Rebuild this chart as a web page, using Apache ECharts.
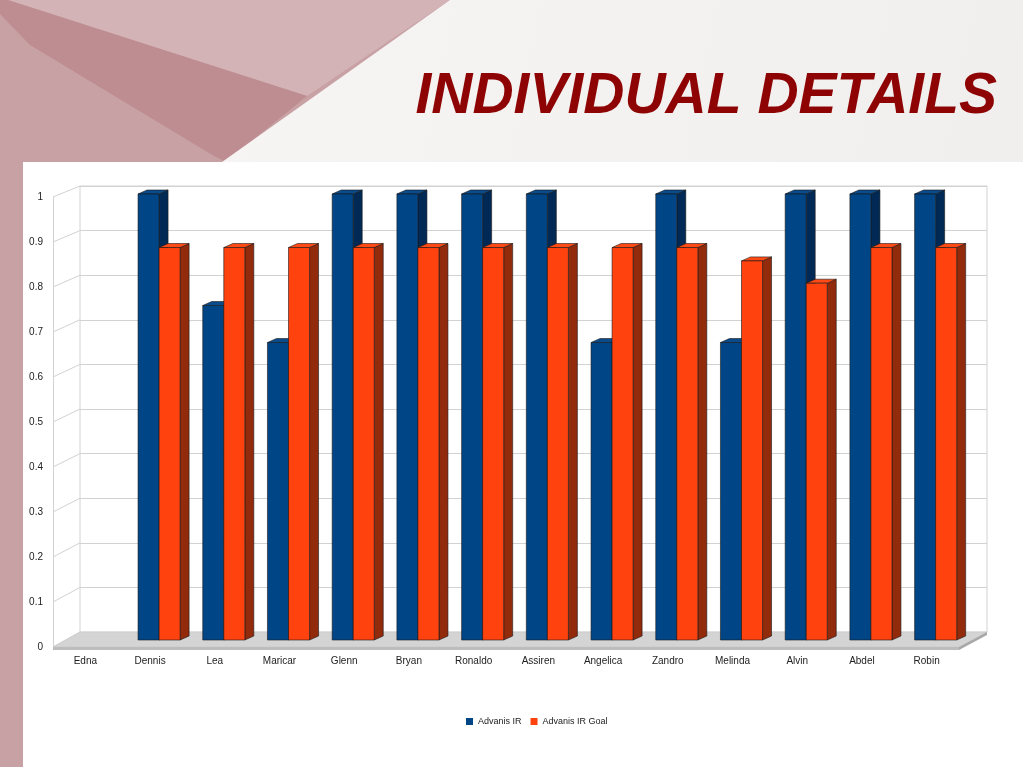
<!DOCTYPE html>
<html>
<head>
<meta charset="utf-8">
<script src="https://cdn.jsdelivr.net/npm/echarts@6/dist/echarts.min.js"></script>
<style>
  html, body { margin: 0; padding: 0; }
  #chart { width: 1023px; height: 767px; }
</style>
</head>
<body>
<div id="chart"></div>
<script>
// data
const names = ["Edna", "Dennis", "Lea", "Maricar", "Glenn", "Bryan", "Ronaldo", "Assiren", "Angelica", "Zandro", "Melinda", "Alvin", "Abdel", "Robin"]
const irValues = [null, 1, 0.75, 0.667, 1, 1, 1, 1, 0.667, 1, 0.667, 1, 1, 1]
const goalValues = [null, 0.88, 0.88, 0.88, 0.88, 0.88, 0.88, 0.88, 0.88, 0.88, 0.85, 0.8, 0.88, 0.88]
const yTicks = [0, 0.1, 0.2, 0.3, 0.4, 0.5, 0.6, 0.7, 0.8, 0.9, 1]
const seriesNames = ["Advanis IR", "Advanis IR Goal"]

const FONT = "Liberation Sans, Arial, sans-serif"
const BACK_LEFT = 80, BACK_RIGHT = 987
const FRONT_LEFT = 53, FRONT_RIGHT = 959

const chart = echarts.init(document.getElementById("chart"))

// 3d looking bar: front face, side face, top face
const bar3d = (side, front, dark, top) => (params, api) => {
  const v = api.value(1)
  if (v == null || isNaN(v)) return
  const tp = api.coord([api.value(0), v])
  const bp = api.coord([api.value(0), 0])
  const bw = api.size([1, 0])[0] * 0.325
  const x0 = side === 0 ? tp[0] - bw : tp[0]
  const x1 = x0 + bw
  const dx = 9, dy = -4
  const edge = { stroke: "#1a1a1a", lineWidth: 0.6 }
  return {
    type: "group",
    children: [
      { type: "polygon", shape: { points: [[x1, tp[1]], [x1 + dx, tp[1] + dy], [x1 + dx, bp[1] + dy], [x1, bp[1]]] },
        style: Object.assign({ fill: dark }, edge) },
      { type: "polygon", shape: { points: [[x0, tp[1]], [x0 + dx, tp[1] + dy], [x1 + dx, tp[1] + dy], [x1, tp[1]]] },
        style: Object.assign({ fill: top }, edge) },
      { type: "rect", shape: { x: x0, y: tp[1], width: bw, height: bp[1] - tp[1] },
        style: Object.assign({ fill: front }, edge) }
    ]
  }
}

const background = [
  { type: "rect", z: -100, shape: { x: 0, y: 0, width: 1023, height: 767 }, style: { fill: "#c8a1a5" } },
  { type: "polygon", z: -99, shape: { points: [[8, 0], [450, 0], [307, 96]] }, style: { fill: "#d3b3b6" } },
  { type: "polygon", z: -99, shape: { points: [[8, 0], [307, 96], [226, 162], [214, 156], [30, 45], [0, 14], [0, 0]] }, style: { fill: "#be8d92" } },
  { type: "polygon", z: -98, shape: { points: [[450, 0], [1023, 0], [1023, 162], [222, 162]] },
    style: { fill: new echarts.graphic.LinearGradient(0, 0, 1, 1, [{ offset: 0, color: "#f7f4f4" }, { offset: 1, color: "#f1eeee" }]) } },
  { type: "rect", z: -97, shape: { x: 23, y: 162, width: 1000, height: 605 }, style: { fill: "#ffffff" } }
]

chart.setOption({
  animation: false,
  textStyle: { fontFamily: FONT },
  title: {
    text: "INDIVIDUAL DETAILS",
    right: 21,
    top: 64,
    textStyle: { fontSize: 57, fontStyle: "italic", fontWeight: "bold", color: "#8e0404", fontFamily: FONT }
  },
  legend: {
    data: seriesNames,
    left: 461,
    top: 712,
    icon: "rect",
    itemWidth: 7,
    itemHeight: 7,
    itemGap: 9,
    textStyle: { fontSize: 9, color: "#222", fontFamily: FONT }
  },
  grid: [
    // back wall
    { left: BACK_LEFT, right: 1023 - BACK_RIGHT, top: 186, bottom: 767 - 632, show: true, borderColor: "#d2d2d2", borderWidth: 1, backgroundColor: "#fff" },
    // front plane (axis labels)
    { left: FRONT_LEFT, width: 27, top: 197, bottom: 767 - 647 },
    // bar plane
    { left: 62, right: 55, top: 194, bottom: 767 - 640 }
  ],
  xAxis: [
    { gridIndex: 0, type: "category", data: names, show: false },
    { gridIndex: 1, type: "value", min: 0, max: 1, show: false },
    {
      gridIndex: 2, type: "category", data: names,
      axisLine: { show: false }, axisTick: { show: false },
      axisLabel: { fontSize: 10, color: "#222", margin: 16, padding: [0, 18, 0, 0], interval: 0 }
    }
  ],
  yAxis: [
    { gridIndex: 0, type: "value", min: 0, max: 1, interval: 0.1, axisLabel: { show: false }, axisLine: { show: false }, axisTick: { show: false },
      splitLine: { lineStyle: { color: "#d2d2d2", width: 1 } } },
    { gridIndex: 1, type: "value", min: 0, max: 1, interval: 0.1, splitLine: { show: false }, axisTick: { show: false },
      axisLine: { show: true, lineStyle: { color: "#d2d2d2" } },
      axisLabel: { fontSize: 10, color: "#222", margin: 10 } },
    { gridIndex: 2, type: "value", min: 0, max: 1, show: false }
  ],
  series: [
    {
      name: seriesNames[0], type: "custom", xAxisIndex: 2, yAxisIndex: 2, z: 3,
      itemStyle: { color: "#004586" },
      renderItem: bar3d(0, "#004586", "#002a55", "#0a4b8c"),
      data: names.map((n, i) => [i, irValues[i]])
    },
    {
      name: seriesNames[1], type: "custom", xAxisIndex: 2, yAxisIndex: 2, z: 4,
      itemStyle: { color: "#ff420e" },
      renderItem: bar3d(1, "#ff420e", "#922a0c", "#ff4a16"),
      data: names.map((n, i) => [i, goalValues[i]])
    }
  ]
})

// slanted ticks between front plane and back wall, and the floor
const frontY = v => chart.convertToPixel({ yAxisIndex: 1 }, v)
const backY = v => chart.convertToPixel({ yAxisIndex: 0 }, v)
const ticks = yTicks.map(v => ({
  type: "line", z: -90,
  shape: { x1: FRONT_LEFT, y1: frontY(v), x2: BACK_LEFT, y2: backY(v) },
  style: { stroke: "#d2d2d2", lineWidth: 1 }
}))
const fy0 = frontY(0), by0 = backY(0)
const floor = [
  { type: "polygon", z: 1, shape: { points: [[BACK_LEFT, by0], [BACK_RIGHT, by0], [FRONT_RIGHT, fy0], [FRONT_LEFT, fy0]] },
    style: { fill: "#d4d4d4", stroke: "#c4c4c4", lineWidth: 0.5 } },
  { type: "polygon", z: 1, shape: { points: [[FRONT_LEFT, fy0], [FRONT_RIGHT, fy0], [FRONT_RIGHT, fy0 + 3], [FRONT_LEFT, fy0 + 3]] },
    style: { fill: "#bdbdbd" } },
  { type: "polygon", z: 1, shape: { points: [[BACK_RIGHT, by0], [BACK_RIGHT, by0 + 3], [FRONT_RIGHT, fy0 + 3], [FRONT_RIGHT, fy0]] },
    style: { fill: "#a8a8a8" } }
]
chart.setOption({ graphic: background.concat(ticks, floor) })
</script>
</body>
</html>
